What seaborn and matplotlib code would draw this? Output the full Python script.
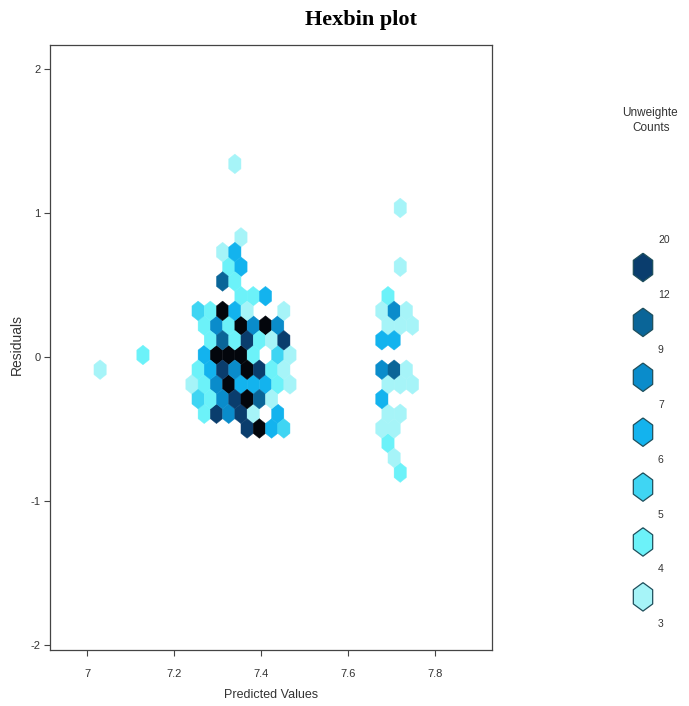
import numpy as np
import matplotlib
matplotlib.use("Agg")
import matplotlib.pyplot as plt
import seaborn as sns
import pandas as pd
from matplotlib.colors import ListedColormap, BoundaryNorm

# ---------------- data (hex cell centres) ----------------
# count classes: 3 pale, 4 light cyan, 5 cyan, 6 bright blue, 8 mid blue,
#                10 dark blue, 14 navy, 22 black
predicted = [
    7.340,
    7.720,
    7.354,
    7.312, 7.340,
    7.326, 7.354, 7.720,
    7.312, 7.340,
    7.354, 7.382, 7.410, 7.692,
    7.255, 7.284, 7.312, 7.340, 7.368, 7.453, 7.678, 7.706, 7.734,
    7.270, 7.298, 7.326, 7.354, 7.382, 7.410, 7.439, 7.692, 7.720, 7.748,
    7.284, 7.312, 7.340, 7.368, 7.396, 7.424, 7.453, 7.678, 7.706,
    7.129, 7.270, 7.298, 7.326, 7.354, 7.382, 7.439, 7.467,
    7.030, 7.255, 7.284, 7.312, 7.340, 7.368, 7.396, 7.424, 7.453, 7.678, 7.706, 7.734,
    7.241, 7.270, 7.298, 7.326, 7.354, 7.382, 7.410, 7.439, 7.467, 7.692, 7.720, 7.748,
    7.255, 7.284, 7.312, 7.340, 7.368, 7.396, 7.424, 7.678,
    7.270, 7.298, 7.326, 7.354, 7.382, 7.439, 7.692, 7.720,
    7.368, 7.396, 7.424, 7.453, 7.678, 7.706,
    7.692,
    7.706,
    7.720,
]
residuals = [
    1.341,
    1.035,
    0.831,
    0.729, 0.729,
    0.627, 0.627, 0.627,
    0.525, 0.525,
    0.422, 0.422, 0.422, 0.422,
    0.320, 0.320, 0.320, 0.320, 0.320, 0.320, 0.320, 0.320, 0.320,
    0.218, 0.218, 0.218, 0.218, 0.218, 0.218, 0.218, 0.218, 0.218, 0.218,
    0.116, 0.116, 0.116, 0.116, 0.116, 0.116, 0.116, 0.116, 0.116,
    0.014, 0.014, 0.014, 0.014, 0.014, 0.014, 0.014, 0.014,
    -0.088, -0.088, -0.088, -0.088, -0.088, -0.088, -0.088, -0.088, -0.088, -0.088, -0.088, -0.088,
    -0.190, -0.190, -0.190, -0.190, -0.190, -0.190, -0.190, -0.190, -0.190, -0.190, -0.190, -0.190,
    -0.292, -0.292, -0.292, -0.292, -0.292, -0.292, -0.292, -0.292,
    -0.394, -0.394, -0.394, -0.394, -0.394, -0.394, -0.394, -0.394,
    -0.497, -0.497, -0.497, -0.497, -0.497, -0.497,
    -0.599,
    -0.701,
    -0.803,
]
counts = [
    3,
    3,
    3,
    3, 6,
    4, 6, 3,
    10, 4,
    4, 4, 6, 4,
    5, 4, 22, 6, 3, 3, 3, 8, 3,
    4, 8, 4, 22, 8, 22, 8, 3, 3, 3,
    4, 10, 4, 14, 4, 3, 14, 6, 6,
    4, 6, 22, 22, 22, 4, 5, 3,
    3, 4, 6, 14, 8, 22, 14, 4, 3, 8, 10, 3,
    3, 4, 8, 22, 6, 6, 6, 4, 3, 3, 3, 3,
    5, 4, 8, 14, 22, 10, 3, 6,
    4, 14, 8, 14, 3, 6, 3, 3,
    14, 22, 6, 5, 3, 3,
    4,
    3,
    4,
]

count_breaks = [3, 4, 5, 6, 7, 9, 12, 20, 40]
legend_breaks = ["20", "12", "9", "7", "6", "5", "4", "3"]
x_ticks = [7.0, 7.2, 7.4, 7.6, 7.8]
x_tick_labels = ["7", "7.2", "7.4", "7.6", "7.8"]
y_ticks = [-2, -1, 0, 1, 2]
y_tick_labels = ["-2", "-1", "0", "1", "2"]

# ---------------- style ----------------
hex_colors = ["#A6F4F8", "#6CF2F9", "#3FD5F3", "#13B3EE",
              "#0A8CCB", "#0A6598", "#0A3D6D", "#03060C"]
legend_colors = hex_colors[:7][::-1]

sns.set_theme(style="white")
plt.rcParams["font.family"] = ["Liberation Sans Narrow", "Liberation Sans", "DejaVu Sans"]
text_col = "#333333"

fig = plt.figure(figsize=(6.89, 7.06), dpi=100)
ax = fig.add_axes([50 / 689, 1 - 650 / 706, 442 / 689, 605 / 706])

df = pd.DataFrame({"predicted": predicted, "residuals": residuals, "counts": counts})

cmap = ListedColormap(hex_colors)
norm = BoundaryNorm(count_breaks, cmap.N)

# hexagon lattice geometry
sx = 0.02816
sy = 0.2042
xmin = 7.1287 - 5 * sx
ymin = 0.014 - 6 * sy
nx, ny = 30, 14
ax.hexbin(df["predicted"], df["residuals"], C=df["counts"],
          reduce_C_function=np.sum, gridsize=(nx, ny),
          extent=(xmin, xmin + nx * sx, ymin, ymin + ny * sy),
          cmap=cmap, norm=norm, linewidths=0.3, edgecolors="face")

ax.set_xlim(6.915, 7.931)
ax.set_ylim(-2.035, 2.167)
ax.set_xticks(x_ticks)
ax.set_xticklabels(x_tick_labels)
ax.set_yticks(y_ticks)
ax.set_yticklabels(y_tick_labels)
ax.tick_params(axis="both", direction="out", length=4, width=0.8, colors="#444444",
               labelcolor=text_col, labelsize=8, bottom=True, left=True)
ax.tick_params(axis="x", pad=10)
ax.tick_params(axis="y", pad=3)
for sp in ax.spines.values():
    sp.set_color("#444444")
    sp.set_linewidth(0.9)
ax.grid(False)
ax.set_xlabel("Predicted Values", fontsize=9, color=text_col, labelpad=7)
ax.set_ylabel("Residuals", fontsize=10, color=text_col,
              family=["Liberation Sans", "DejaVu Sans"])
ax.yaxis.set_label_coords(-0.058, 0.505)

fig.text(361 / 689, 1 - 20 / 706, "Hexbin plot", ha="center", va="center",
         fontsize=16, fontweight="bold", family=["Liberation Serif", "DejaVu Serif"],
         color="black")

# ---------------- legend ----------------
leg = fig.add_axes([590 / 689, 1 - 650 / 706, 88 / 689, 560 / 706])
leg.set_xlim(590, 678)
leg.set_ylim(650, 90)
leg.axis("off")

label_y0 = 240
step = 54.9
hex_verts = [(0, 1), (0.68, 0.5), (0.68, -0.5), (0, -1), (-0.68, -0.5), (-0.68, 0.5), (0, 1)]
leg_df = pd.DataFrame({
    "x": [643] * 7,
    "y": [label_y0 + step * (i + 0.5) for i in range(7)],
    "bin": legend_breaks[:7],
})
sns.scatterplot(data=leg_df, x="x", y="y", hue="bin", palette=legend_colors,
                marker=hex_verts, s=420, edgecolor="#1F4F5C", linewidth=0.9,
                legend=False, ax=leg, clip_on=False)
for i, lab in enumerate(legend_breaks):
    leg.text(658, label_y0 + step * i, lab, fontsize=7.5, color=text_col,
             ha="left", va="center")

leg.text(653, 113, "Unweighted", fontsize=8.5, color=text_col, ha="center",
         va="center", clip_on=True)
leg.text(651, 128, "Counts", fontsize=8.5, color=text_col, ha="center", va="center")

fig.savefig("out.png", dpi=100)
